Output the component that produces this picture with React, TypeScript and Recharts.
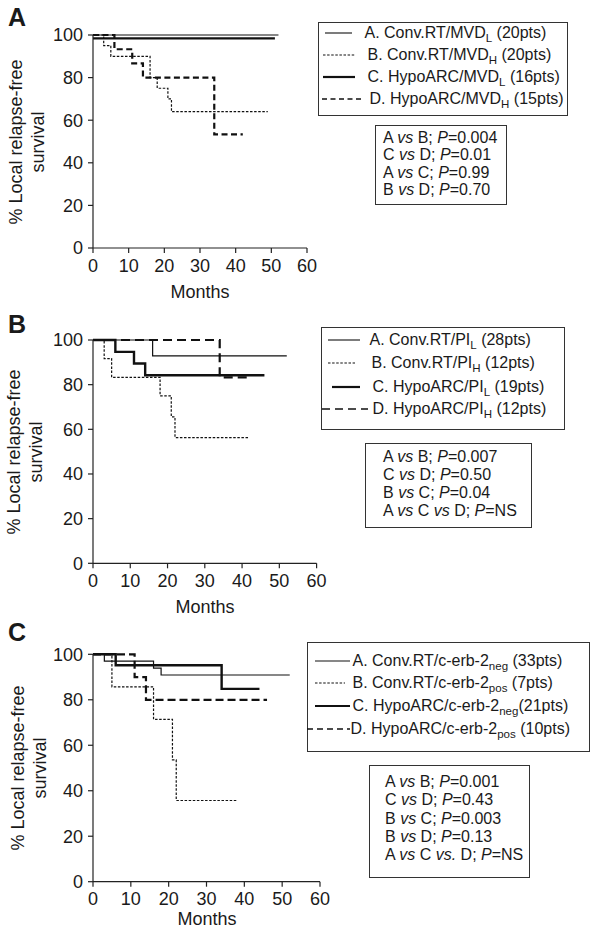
import React from 'react';
import { LineChart, Line, XAxis, YAxis } from 'recharts';

const FONT = '"Liberation Sans", Arial, Helvetica, sans-serif';
const INK = '#1a1a1a';

const MONTH_TICKS = [0, 10, 20, 30, 40, 50, 60];
const SURVIVAL_TICKS = [0, 20, 40, 60, 80, 100];

// A: microvessel density
const A_CONV_L_MONTHS = [0, 52];
const A_CONV_L_PCT = [100, 100];
const A_CONV_H_MONTHS = [0, 3, 5, 16, 18, 21, 22, 49];
const A_CONV_H_PCT = [100, 95, 90, 80, 75, 70, 64, 64];
const A_HYPO_L_MONTHS = [0, 51];
const A_HYPO_L_PCT = [98.4, 98.4];
const A_HYPO_H_MONTHS = [0, 6, 11, 14, 34, 42];
const A_HYPO_H_PCT = [100, 93.3, 86.7, 80, 53.3, 53.3];

// B: proliferation index
const B_CONV_L_MONTHS = [0, 16, 52];
const B_CONV_L_PCT = [100, 92.9, 92.9];
const B_CONV_H_MONTHS = [0, 3, 5, 18, 21, 22, 42];
const B_CONV_H_PCT = [100, 91.7, 83.3, 75, 65.6, 56.3, 56.3];
const B_HYPO_L_MONTHS = [0, 6, 11, 14, 46];
const B_HYPO_L_PCT = [100, 94.7, 89.5, 84.2, 84.2];
const B_HYPO_H_MONTHS = [0, 34, 42];
const B_HYPO_H_PCT = [100, 83.3, 83.3];

// C: c-erb-2
const C_CONV_NEG_MONTHS = [0, 3, 16, 18, 52];
const C_CONV_NEG_PCT = [100, 97, 93.9, 90.9, 90.9];
const C_CONV_POS_MONTHS = [0, 5, 16, 21, 22, 38];
const C_CONV_POS_PCT = [100, 85.7, 71.4, 53.6, 35.7, 35.7];
const C_HYPO_NEG_MONTHS = [0, 6, 34, 44];
const C_HYPO_NEG_PCT = [100, 95.2, 84.8, 84.8];
const C_HYPO_POS_MONTHS = [0, 11, 14, 46];
const C_HYPO_POS_PCT = [100, 90, 80, 80];

// legend labels, ^x^ = subscript
const A_NAMES = ['A. Conv.RT/MVD^L^ (20pts)', 'B. Conv.RT/MVD^H^ (20pts)', 'C. HypoARC/MVD^L^ (16pts)', 'D. HypoARC/MVD^H^ (15pts)'];
const B_NAMES = ['A. Conv.RT/PI^L^ (28pts)', 'B. Conv.RT/PI^H^ (12pts)', 'C. HypoARC/PI^L^ (19pts)', 'D. HypoARC/PI^H^ (12pts)'];
const C_NAMES = ['A. Conv.RT/c-erb-2^neg^ (33pts)', 'B. Conv.RT/c-erb-2^pos^ (7pts)', 'C. HypoARC/c-erb-2^neg^(21pts)', 'D. HypoARC/c-erb-2^pos^ (10pts)'];

// p-values, |x| = italic
const A_PVALUES = ['A |vs| B; |P|=0.004', 'C |vs| D; |P|=0.01', 'A |vs| C; |P|=0.99', 'B |vs| D; |P|=0.70'];
const B_PVALUES = ['A |vs| B; |P|=0.007', 'C |vs| D; |P|=0.50', 'B |vs| C; |P|=0.04', 'A |vs| C |vs| D; |P|=NS'];
const C_PVALUES = ['A |vs| B; |P|=0.001', 'C |vs| D; |P|=0.43', 'B |vs| C; |P|=0.003', 'B |vs| D; |P|=0.13', 'A |vs| C |vs.| D; |P|=NS'];

const toRows = (months: number[], pct: number[]) => months.map((t, i) => ({ t, s: pct[i] }));

type Kind = 'thin' | 'dotted' | 'thick' | 'dashed';

const strokeFor = (kind: Kind, dash: string) => {
    if (kind === 'thin') return { strokeWidth: 1.2 };
    if (kind === 'dotted') return { strokeWidth: 1.2, strokeDasharray: '2.5 1.6' };
    if (kind === 'thick') return { strokeWidth: 2.4 };
    return { strokeWidth: 2.2, strokeDasharray: dash };
};

interface SeriesDef { months: number[]; pct: number[]; kind: Kind }

interface PlotProps {
    top: number;
    width: number;
    height: number;
    margin: { top: number; right: number; bottom: number; left: number };
    series: SeriesDef[];
    dash: string;
}

const KMPlot: React.FC<PlotProps> = ({ top, width, height, margin, series, dash }) => (
    <div style={{ position: 'absolute', left: 0, top }}>
        <LineChart width={width} height={height} margin={margin}>
            <XAxis
                dataKey="t"
                type="number"
                domain={[0, 60]}
                ticks={MONTH_TICKS}
                interval={0}
                height={30}
                tickSize={5}
                tickMargin={6}
                axisLine={{ stroke: '#222', strokeWidth: 1.2 }}
                tickLine={{ stroke: '#222', strokeWidth: 1.2 }}
                tick={{ fill: INK, fontSize: 18, fontFamily: FONT }}
            />
            <YAxis
                type="number"
                domain={[0, 100]}
                ticks={SURVIVAL_TICKS}
                interval={0}
                width={93}
                tickSize={5}
                tickMargin={5}
                axisLine={{ stroke: '#222', strokeWidth: 1.2 }}
                tickLine={{ stroke: '#222', strokeWidth: 1.2 }}
                tick={{ fill: INK, fontSize: 18, fontFamily: FONT }}
            />
            {series.map((s, i) => (
                <Line
                    key={i}
                    data={toRows(s.months, s.pct)}
                    dataKey="s"
                    type="stepAfter"
                    stroke="#111"
                    {...strokeFor(s.kind, dash)}
                    dot={false}
                    activeDot={false}
                    isAnimationActive={false}
                />
            ))}
        </LineChart>
    </div>
);

const Rich: React.FC<{ text: string; mark: string; render: (s: string) => React.ReactNode }> = ({ text, mark, render }) => (
    <>
        {text.split(mark).map((part, i) => (i % 2 === 1 ? <React.Fragment key={i}>{render(part)}</React.Fragment> : <React.Fragment key={i}>{part}</React.Fragment>))}
    </>
);

const sub = (s: string) => (
    <span style={{ fontSize: '0.72em', position: 'relative', top: '0.38em' }}>{s}</span>
);
const ital = (s: string) => <i>{s}</i>;

interface LegendRow { y: number; x1: number; x2: number; kind: Kind; dash: string; textX: number }

const LegendBox: React.FC<{ left: number; top: number; width: number; height: number; names: string[]; rows: LegendRow[] }> = ({ left, top, width, height, names, rows }) => (
    <div style={{ position: 'absolute', left, top, width, height, boxSizing: 'border-box', border: '1.5px solid #333', fontFamily: FONT, fontSize: 16, color: INK }}>
        <svg width={width} height={height} style={{ position: 'absolute', left: -1.5, top: -1.5 }}>
            {rows.map((r, i) => {
                const st = r.kind === 'dashed' ? { strokeWidth: 1.6, strokeDasharray: r.dash } : r.kind === 'dotted' ? { strokeWidth: 1.2, strokeDasharray: '2.5 1.6' } : r.kind === 'thick' ? { strokeWidth: 2.2 } : { strokeWidth: 1.1 };
                return <line key={i} x1={r.x1} x2={r.x2} y1={r.y} y2={r.y} stroke="#111" {...st} />;
            })}
        </svg>
        {rows.map((r, i) => (
            <span key={i} style={{ position: 'absolute', left: r.textX - 1.5, top: r.y - 11.5, lineHeight: '20px', whiteSpace: 'nowrap' }}>
                <Rich text={names[i]} mark="^" render={sub} />
            </span>
        ))}
    </div>
);

const PBox: React.FC<{ left: number; top: number; width: number; height: number; lines: string[]; firstY: number; step: number; textX: number }> = ({ left, top, width, height, lines, firstY, step, textX }) => (
    <div style={{ position: 'absolute', left, top, width, height, boxSizing: 'border-box', border: '1.5px solid #333', fontFamily: FONT, fontSize: 16, color: INK }}>
        {lines.map((l, i) => (
            <span key={i} style={{ position: 'absolute', left: textX, top: firstY + i * step - 11, lineHeight: '20px', whiteSpace: 'pre' }}>
                <Rich text={l} mark="|" render={ital} />
            </span>
        ))}
    </div>
);

const PanelLetter: React.FC<{ letter: string; top: number }> = ({ letter, top }) => (
    <div style={{ position: 'absolute', left: 8, top, fontFamily: FONT, fontWeight: 'bold', fontSize: 25, lineHeight: 1, color: INK }}>{letter}</div>
);

const YTitle: React.FC<{ cx: number; cy: number }> = ({ cx, cy }) => (
    <div style={{ position: 'absolute', left: cx - 110, top: cy - 22, width: 220, height: 44, lineHeight: '22px', textAlign: 'center', transform: 'rotate(-90deg)', fontFamily: FONT, fontSize: 18, color: INK, whiteSpace: 'nowrap' }}>
        % Local relapse-free
        <br />
        survival
    </div>
);

const XTitle: React.FC<{ cx: number; top: number }> = ({ cx, top }) => (
    <div style={{ position: 'absolute', left: cx - 60, top, width: 120, textAlign: 'center', lineHeight: 1, fontFamily: FONT, fontSize: 18, color: INK }}>Months</div>
);

export default function App() {
    return (
        <div style={{ position: 'absolute', left: 0, top: 0, width: 600, height: 936, background: '#fff', overflow: 'hidden' }}>
            {/* A */}
            <PanelLetter letter="A" top={5} />
            <KMPlot
                top={0}
                width={320}
                height={310}
                margin={{ top: 35, right: 13, bottom: 32, left: 0 }}
                dash="6 3.5"
                series={[
                    { months: A_CONV_L_MONTHS, pct: A_CONV_L_PCT, kind: 'thin' },
                    { months: A_CONV_H_MONTHS, pct: A_CONV_H_PCT, kind: 'dotted' },
                    { months: A_HYPO_L_MONTHS, pct: A_HYPO_L_PCT, kind: 'thick' },
                    { months: A_HYPO_H_MONTHS, pct: A_HYPO_H_PCT, kind: 'dashed' },
                ]}
            />
            <YTitle cx={27} cy={141.5} />
            <XTitle cx={200} top={283} />
            <LegendBox
                left={318}
                top={22}
                width={250}
                height={94}
                names={A_NAMES}
                rows={[
                    { y: 11, x1: 7, x2: 34, kind: 'thin', dash: '', textX: 47 },
                    { y: 33, x1: 5, x2: 37, kind: 'dotted', dash: '', textX: 50 },
                    { y: 55, x1: 5, x2: 37, kind: 'thick', dash: '', textX: 50 },
                    { y: 77, x1: 4, x2: 45, kind: 'dashed', dash: '5 3.5', textX: 52 },
                ]}
            />
            <PBox left={375} top={125} width={132} height={80} lines={A_PVALUES} firstY={13} step={17.4} textX={7} />

            {/* B */}
            <PanelLetter letter="B" top={312} />
            <KMPlot
                top={305}
                width={330}
                height={310}
                margin={{ top: 35, right: 13.4, bottom: 21.7, left: 0 }}
                dash="9 5"
                series={[
                    { months: B_CONV_L_MONTHS, pct: B_CONV_L_PCT, kind: 'thin' },
                    { months: B_CONV_H_MONTHS, pct: B_CONV_H_PCT, kind: 'dotted' },
                    { months: B_HYPO_L_MONTHS, pct: B_HYPO_L_PCT, kind: 'thick' },
                    { months: B_HYPO_H_MONTHS, pct: B_HYPO_H_PCT, kind: 'dashed' },
                ]}
            />
            <YTitle cx={25} cy={451.5} />
            <XTitle cx={205} top={598} />
            <LegendBox
                left={321}
                top={327}
                width={244}
                height={103}
                names={B_NAMES}
                rows={[
                    { y: 13, x1: 7, x2: 39, kind: 'thin', dash: '', textX: 49 },
                    { y: 36, x1: 7, x2: 34, kind: 'dotted', dash: '', textX: 51 },
                    { y: 60, x1: 11, x2: 39, kind: 'thick', dash: '', textX: 52 },
                    { y: 82, x1: 1, x2: 47, kind: 'dashed', dash: '8 5', textX: 52 },
                ]}
            />
            <PBox left={365} top={443} width={167} height={85} lines={B_PVALUES} firstY={14} step={18} textX={17} />

            {/* C */}
            <PanelLetter letter="C" top={620} />
            <KMPlot
                top={620}
                width={335}
                height={320}
                margin={{ top: 34.3, right: 15, bottom: 28.3, left: 0 }}
                dash="8 4"
                series={[
                    { months: C_CONV_NEG_MONTHS, pct: C_CONV_NEG_PCT, kind: 'thin' },
                    { months: C_CONV_POS_MONTHS, pct: C_CONV_POS_PCT, kind: 'dotted' },
                    { months: C_HYPO_NEG_MONTHS, pct: C_HYPO_NEG_PCT, kind: 'thick' },
                    { months: C_HYPO_POS_MONTHS, pct: C_HYPO_POS_PCT, kind: 'dashed' },
                ]}
            />
            <YTitle cx={28.5} cy={768} />
            <XTitle cx={207} top={910} />
            <LegendBox
                left={307}
                top={642}
                width={283}
                height={110}
                names={C_NAMES}
                rows={[
                    { y: 19, x1: 8, x2: 43, kind: 'thin', dash: '', textX: 46 },
                    { y: 41, x1: 8, x2: 38, kind: 'dotted', dash: '', textX: 46 },
                    { y: 64, x1: 8, x2: 43, kind: 'thick', dash: '', textX: 46 },
                    { y: 87, x1: 0, x2: 43, kind: 'dashed', dash: '6 4', textX: 44 },
                ]}
            />
            <PBox left={369} top={765} width={161} height={113} lines={C_PVALUES} firstY={17} step={18.3} textX={15} />
        </div>
    );
}
